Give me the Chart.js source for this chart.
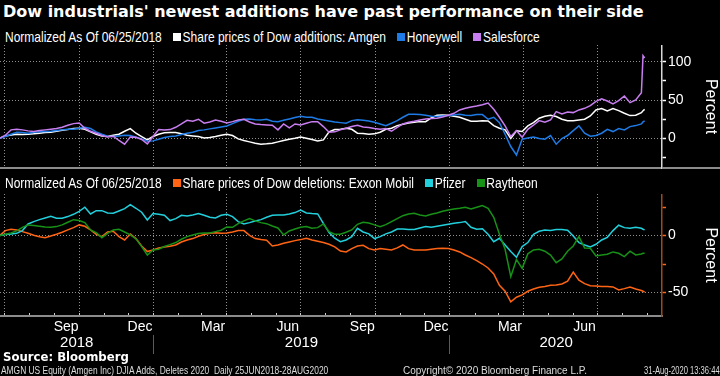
<!DOCTYPE html>
<html>
<head>
<meta charset="utf-8">
<script src="https://cdn.jsdelivr.net/npm/chart.js@4.4.1/dist/chart.umd.min.js"></script>
<style>
html, body { margin: 0; padding: 0; background: #000; }
#wrap { position: relative; width: 720px; height: 376px; overflow: hidden; background: #000; color: #fff; }
.t { position: absolute; white-space: nowrap; transform-origin: 0 0; }
.title { left: 3px; top: 2px; font: bold 16px 'DejaVu Sans', sans-serif; line-height: 20px; }
.leg { left: 5px; font: 15px 'Liberation Sans', sans-serif; line-height: 16px; transform: scaleX(0.8); }
.leg span.sq { display: inline-block; width: 10px; height: 8px; margin: 0 2px 1px 14px; }
.src { left: 3px; top: 349px; font: bold 13px 'DejaVu Sans Condensed', 'DejaVu Sans', sans-serif; line-height: 16px; }
.foot { top: 365px; font: 10px 'Liberation Sans', sans-serif; line-height: 11px; color: #ddd; }
canvas { position: absolute; left: 0; }
</style>
</head>
<body>
<div id="wrap">
  <div class="t title">Dow industrials' newest additions have past performance on their side</div>
  <div class="t leg" style="top:29px">Normalized As Of 06/25/2018<span class="sq" style="background:#ffffff"></span>Share prices of Dow additions: Amgen<span class="sq" style="background:#1e7be6"></span>Honeywell<span class="sq" style="background:#c87ef0"></span>Salesforce</div>
  <canvas id="top" width="720" height="126" style="top:45px"></canvas>
  <div class="t" style="left:662px;top:167px;width:58px;height:2px;background:#8c8c8c"></div>
  <div class="t leg" style="top:175px">Normalized As Of 06/25/2018<span class="sq" style="background:#ff6414"></span>Share prices of Dow deletions: Exxon Mobil<span class="sq" style="background:#21d0dc"></span>Pfizer<span class="sq" style="background:#179117"></span>Raytheon</div>
  <canvas id="bot" width="720" height="160" style="top:194px"></canvas>
  <div class="t src">Source: Bloomberg</div>
  <div class="t foot" style="left:1px;transform:scaleX(0.84)">AMGN US Equity (Amgen Inc) DJIA Adds, Deletes 2020&nbsp; Daily 25JUN2018-28AUG2020</div>
  <div class="t foot" style="left:403px">Copyright© 2020 Bloomberg Finance L.P.</div>
  <div class="t foot" style="left:644px;transform:scaleX(0.76)">31-Aug-2020 13:36:44</div>
</div>
<script>
// x values: days since 25 Jun 2018 (weekly closes, plus the last few days of Aug 2020)
var days = [];
for (var w = 0; w < 114; w++) days.push(w * 7);
days.push(793, 795);

var amgen = [0, 3, 4.3, 5.2, 4.8, 5.2, 5.7, 6.5, 7.4, 7.8,
  9.1, 10.4, 11.3, 12.6, 13, 11.7, 8.3, 5.2, 3, 2.2,
  3.9, 5.2, 9.1, 12.6, 6.5, 2.2, -2.2, 2.2, 5.2, 7,
  7.4, 7.4, 5.7, 3.9, 3, 2.2, 0.4, 0.9, 2.2, 3.9,
  5.2, 3.5, -0.9, -3, -4.8, -6.5, -7.8, -7.4, -6.5, -4.8,
  -3, -1.3, 0, 1.7, 0, -1.7, -3.5, -2.2, 8.3, 11.3,
  11.7, 13, 11.7, 6.5, 6.1, 5.2, 5.7, 7.8, 11.7, 13,
  16.5, 18.3, 20, 20.9, 21.7, 21.7, 26.5, 30, 30.4, 30,
  28.7, 27.4, 24.8, 22.2, 22.2, 23, 22.6, 16.5, 13, 10.9,
  -0.4, 9.6, 8.7, 16.1, 20.4, 26.1, 28.7, 30, 28.3, 24.8,
  23, 23, 23.9, 24.8, 29.1, 37, 38.7, 35.7, 38.7, 36.1,
  32.6, 29.6, 30, 33.5, 36, 37.8];
var honeywell = [0, 2.2, 5.2, 7.8, 7.4, 6.5, 7.8, 8.3, 8.7, 9.1,
  10, 10.9, 11.7, 11.7, 13, 14.3, 12.6, 8.3, 5.2, 2.6,
  2.2, 3, 3.9, 3.5, 1.3, -0.9, -3.9, -3.5, -1.3, 0.9,
  2.2, 3, 4.8, 6.5, 7.8, 10, 10.9, 12.2, 13.5, 14.8,
  16.1, 19.1, 22.2, 24.8, 25.2, 24.3, 23.9, 24.8, 22.2, 21.7,
  23.5, 25.2, 27, 28.7, 27.4, 27.4, 25.2, 23.9, 22.6, 21.3,
  20.4, 19.6, 23, 24.3, 23.5, 22.6, 20.9, 18.7, 16.5, 19.6,
  23, 27.4, 31.3, 31.3, 30.9, 30, 28.7, 28.3, 29.1, 29.6,
  30.4, 31.3, 30, 29.6, 30.9, 30.9, 24.8, 27.4, 20.4, 5.2,
  -10.9, -22, -1.3, 0.4, 1.7, -0.4, -1.3, 3.5, -7.8, -0.4,
  3.5, 10, 16.1, 6.5, 2.6, 3.5, 6.5, 11.7, 8.7, 12.6,
  10.9, 15.2, 16.5, 18.7, 21.3, 22.6];
var salesforce = [0, 3.9, 10.9, 11.7, 10.9, 9.6, 8.7, 10, 10.9, 11.7,
  12.6, 14.3, 17, 19.1, 20, 13, 9.1, 6.5, 3.5, 1.7,
  2.6, -3, -7.8, 1.7, 1.3, -1.7, -7.4, 2.2, 11.3, 10.9,
  11.3, 14.3, 18.7, 23.5, 22.2, 24.8, 19.6, 21.3, 23.9, 22.2,
  20, 21.7, 23.9, 24.8, 21.3, 18.7, 17.8, 17.4, 17, 10.9,
  18.7, 13.5, 18.7, 17.4, 19.6, 21.7, 21.7, 15.2, 7.8, 8.3,
  10.9, 13, 15.2, 17, 14.8, 13.9, 12.6, 11.7, 12.6, 9.1,
  14.3, 18.7, 20.9, 22.2, 23.9, 25.2, 25.7, 26.1, 27.8, 30,
  32.6, 37, 39.1, 40.9, 42.2, 43.9, 46.1, 37.8, 27.4, 16.1,
  2.2, 10, 1.3, 11.7, 17, 23, 20.9, 23.9, 34.8, 31.7,
  34.3, 33.5, 37, 39.1, 42.6, 48.3, 51.7, 48.7, 44.8, 49.1,
  55.2, 46.5, 50, 59.6, 108, 105];

var exxon = [0, 4.4, 5.6, 5, 3.5, 2, 0.3, -0.9, -1.8, -0.3,
  1.2, 2.9, 5, 7, 9.4, 8.2, 5, 1.2, -0.9, 3.2,
  3.8, -0.9, -3.8, 1.5, -2.6, -9.1, -14, -12.6, -10.8, -9.9,
  -9.4, -8.2, -5.6, -3.8, -2.6, -0.6, 0.9, 2, 2.6, 2,
  2.3, 3.2, 4.4, 4.4, 0.3, -2.6, -3.5, -4.1, -9.1, -8.2,
  -6.7, -5.6, -4.4, -3.5, -2.3, -3.8, -5, -6.1, -7.6, -9.9,
  -13.5, -14.3, -11.4, -9.1, -8.5, -11.4, -12.6, -11.4, -12, -12.6,
  -10.8, -8.2, -11.4, -12.6, -12.6, -12.6, -12, -11.4, -11.1, -11.4,
  -12.6, -14.3, -17, -19.3, -21.9, -24.9, -28.4, -33.6, -43.6, -48.8,
  -58, -54, -52, -48.8, -46.8, -45.3, -44.7, -43.6, -43.3, -42.4,
  -40, -32, -39, -42.1, -43.9, -44.2, -44.7, -44.7, -45, -47.7,
  -46.5, -45, -46.8, -48.2, -48.8, -49.4];
var pfizer = [0, 0.9, 1.5, 2, 4.4, 10.2, 12.3, 14, 15.5, 17,
  15.2, 15.2, 16.7, 18.7, 21.3, 24.9, 19, 21.9, 21.9, 19.9,
  19.6, 21.6, 23.7, 27.2, 24, 20.5, 13.7, 19.3, 18.7, 17.8,
  13.2, 14.9, 17.8, 17.3, 18.1, 19.3, 17.8, 16.1, 15.5, 17.8,
  18.7, 16.7, 12.3, 10.2, 11.4, 12.9, 14, 16.1, 17.8, 18.1,
  18.1, 19, 20.2, 22.5, 19.9, 19.3, 19, 10.8, 2.6, -2.3,
  -5.3, -3.8, -0.9, 6.4, 3.2, 1.5, -2.6, -0.9, 1.5, 3.2,
  5.8, 5.8, 5.3, 5.3, 6.7, 7.9, 7.3, 8.2, 9.1, 9.9,
  10.8, 11.4, 12.3, 7.3, 5.6, 6.1, 1.2, -5.3, -2.3, -8.2,
  -14, -19, -9.6, -6.1, 1.2, 3.8, 5, 4.4, 5.3, 5.3,
  4.7, -0.3, -6.1, -8.2, -9.9, -7.6, -3.8, -1.5, 4.4, 9.1,
  7, 6.4, 7.3, 6.4, 5.6, 5];
var raytheon = [0, 1.2, 2.3, 4.1, 7.3, 9.4, 8.8, 8.2, 7.6, 7.3,
  7.9, 9.4, 11.7, 14, 13.2, 11.4, 5, 2.6, -1.8, 2,
  5, 5.6, 3.2, 0.6, -2.9, -9.6, -17, -12.6, -12, -9.6,
  -7.9, -6.1, -3.2, -0.9, 0.6, 1.8, 2.3, 2.3, 3.5, 4.7,
  7.6, 7.3, 10.5, 12.9, 14.9, 12.9, 11.4, 10.5, 8.5, 6.7,
  0.6, 4.1, 5.8, 7.3, 7.9, 6.4, 7, 10.2, 3.5, 1.2,
  1.2, 2.9, 5, 9.9, 11.7, 11.1, 9.4, 7.9, 9.6, 12.3,
  14.9, 17.5, 19, 19.6, 18.1, 17.3, 18.7, 19.9, 21.3, 22.5,
  23.4, 24, 24.9, 23.4, 24.9, 26.3, 24, 16.1, 1.2, -12,
  -36, -21, -28.7, -16, -12.6, -12, -13.7, -17, -23.7, -20.5,
  -13.7, -9.1, -0.9, -10.8, -11.1, -17.8, -17, -16.4, -14.3, -15.5,
  -18.4, -13.7, -17, -16.1, -15.5, -15.5];

// axis ticks (days since 25 Jun 2018)
var quarterDays = [6, 98, 190, 280, 371, 463, 555, 646, 737];
var monthDays = [6, 37, 68, 98, 129, 159, 190, 221, 249, 280, 310, 341, 371, 402, 433, 463, 494, 524, 555, 586, 615, 646, 676, 707, 737, 768, 799];
var monthLabelDays = [82, 173, 263, 355, 447, 538, 629, 721];
var monthLabels = ['Sep', 'Dec', 'Mar', 'Jun', 'Sep', 'Dec', 'Mar', 'Jun'];
var yearLabelDays = [95, 372, 686];
var yearLabels = ['2018', '2019', '2020'];
var yearSepDays = [190, 555];
var topTicks = [-25, 0, 25, 50, 75, 100];
var botTicks = [-50, -25, 0, 25];

var xMin = 0.4, xMax = 816.4;
var gridGray = '#909090';

function pts(vals) {
  return days.map(function (d, i) { return { x: d, y: vals[i] }; });
}
function line(label, vals, color, order) {
  return { label: label, data: pts(vals), borderColor: color, borderWidth: 1.5,
    pointRadius: 0, tension: 0, fill: false, order: order };
}
function setTicks(list) {
  return function (s) { s.ticks = list.map(function (v) { return { value: v }; }); };
}

function yAxis(min, max, ticks, axisColor, tickColor) {
  return {
    type: 'linear', position: 'right', min: min, max: max,
    afterBuildTicks: setTicks(ticks),
    afterFit: function (s) { s.width = 58; s.paddingTop = 0; s.paddingBottom = 0; },
    grid: {
      color: function (c) { return c.tick && c.tick.value % 50 === 0 ? gridGray : 'rgba(0,0,0,0)'; },
      tickColor: tickColor, tickLength: 4, tickWidth: 1.5
    },
    border: { display: true, color: axisColor, width: 1.5, dash: [1, 2] },
    ticks: {
      color: '#fff', padding: 2, font: { family: 'Liberation Sans', size: 14 },
      callback: function (v) { return v % 50 === 0 ? String(v) : ''; }
    },
    title: { display: true, text: 'Percent', color: '#fff', padding: { top: 0, bottom: 2 },
      font: { family: 'Liberation Sans', size: 16 } }
  };
}

function gridX(h, tickLen) {
  return {
    type: 'linear', position: 'bottom', min: xMin, max: xMax, weight: 0,
    afterBuildTicks: setTicks(tickLen ? monthDays : quarterDays),
    afterFit: function (s) { s.height = h; s.paddingLeft = 0; s.paddingRight = 0; },
    grid: {
      color: function (c) { return c.tick && quarterDays.indexOf(c.tick.value) >= 0 ? gridGray : 'rgba(0,0,0,0)'; },
      drawTicks: !!tickLen, tickLength: tickLen || 0, tickColor: '#cccccc'
    },
    border: { display: true, color: '#8c8c8c', width: 2, dash: [1, 2] },
    ticks: { display: false }
  };
}

var base = {
  responsive: false, animation: false, devicePixelRatio: 1,
  layout: { padding: 0 },
  plugins: { legend: { display: false }, tooltip: { enabled: false } }
};

new Chart(document.getElementById('top'), {
  type: 'line',
  data: { datasets: [
    line('Share prices of Dow additions: Amgen', amgen, '#ffffff', 3),
    line('Honeywell', honeywell, '#1e7be6', 2),
    line('Salesforce', salesforce, '#c87ef0', 1)
  ] },
  options: Object.assign({}, base, {
    scales: {
      x: gridX(3, 0),
      y: yAxis(-39, 122, topTicks, '#d8d8d8', '#ffffff')
    }
  })
});

new Chart(document.getElementById('bot'), {
  type: 'line',
  data: { datasets: [
    line('Share prices of Dow deletions: Exxon Mobil', exxon, '#ff6414', 3),
    line('Pfizer', pfizer, '#21d0dc', 2),
    line('Raytheon', raytheon, '#179117', 1)
  ] },
  options: Object.assign({}, base, {
    scales: {
      // month tick marks point up into the plot, like the reference
      x: gridX(4, -3),
      xm: {
        type: 'linear', position: 'bottom', min: xMin, max: xMax, weight: 1,
        afterBuildTicks: setTicks(monthLabelDays),
        afterFit: function (s) { s.height = 15; s.paddingLeft = 0; s.paddingRight = 0; },
        grid: { display: false }, border: { display: false },
        ticks: { color: '#fff', autoSkip: false, maxRotation: 0, padding: -8,
          font: { family: 'Liberation Sans', size: 14, lineHeight: 1 },
          callback: function (v, i) { return monthLabels[i]; } }
      },
      xy: {
        type: 'linear', position: 'bottom', min: xMin, max: xMax, weight: 2,
        afterBuildTicks: setTicks(yearLabelDays.concat(yearSepDays)),
        afterFit: function (s) { s.height = 19; s.paddingLeft = 0; s.paddingRight = 0; },
        grid: { display: true, drawOnChartArea: false, drawTicks: true, tickLength: 19, tickWidth: 1,
          tickColor: function (c) { return c.tick && yearSepDays.indexOf(c.tick.value) >= 0 ? '#5a5a5a' : 'rgba(0,0,0,0)'; } },
        border: { display: false },
        ticks: { color: '#fff', autoSkip: false, maxRotation: 0, padding: -19,
          font: { family: 'Liberation Sans', size: 15, lineHeight: 1 },
          callback: function (v, i) { return i < yearLabels.length ? yearLabels[i] : ''; } }
      },
      y: yAxis(-70.5, 36.5, botTicks, '#a04a1c', '#ff6414')
    }
  })
});
</script>
</body>
</html>
